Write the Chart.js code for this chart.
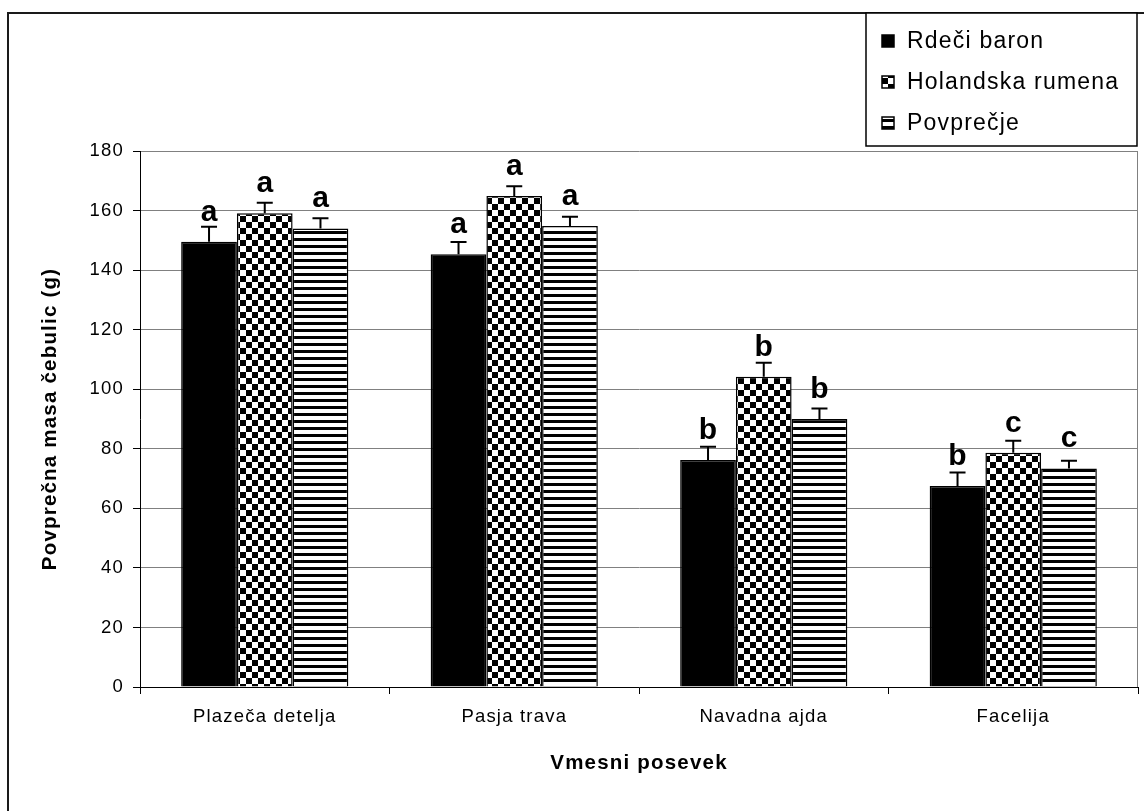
<!DOCTYPE html>
<html>
<head>
<meta charset="utf-8">
<script src="https://cdn.jsdelivr.net/npm/chart.js@4.4.0/dist/chart.umd.min.js"></script>
<style>
  html, body { margin: 0; padding: 0; background: #fff; }
  canvas { display: block; }
</style>
</head>
<body>
<canvas id="c" width="1144" height="811"></canvas>
<script>
const categories = ['Plazeča detelja', 'Pasja trava', 'Navadna ajda', 'Facelija'];
const seriesNames = ['Rdeči baron', 'Holandska rumena', 'Povprečje'];
const rdeciBaron = [149.5, 145.3, 76.2, 67.5];
const holandskaRumena = [159.1, 164.9, 104.2, 78.7];
const povprecje = [154.0, 154.8, 90.0, 73.4];
const rdeciBaronErr = [5.1, 4.1, 4.5, 4.5];
const holandskaRumenaErr = [3.5, 3.3, 4.7, 4.0];
const povprecjeErr = [3.4, 3.1, 3.5, 2.6];
const rdeciBaronLetters = ['a', 'a', 'b', 'b'];
const holandskaRumenaLetters = ['a', 'a', 'b', 'c'];
const povprecjeLetters = ['a', 'a', 'b', 'c'];
const yTicks = [0, 20, 40, 60, 80, 100, 120, 140, 160, 180];
const yTitle = 'Povprečna masa čebulic (g)';
const xTitle = 'Vmesni posevek';

const FONT = '"Liberation Sans", Arial, sans-serif';
const SPACING = '1.2px';

function checkerPattern() {
  const c = document.createElement('canvas');
  c.width = 12; c.height = 12;
  const g = c.getContext('2d');
  g.fillStyle = '#fff'; g.fillRect(0, 0, 12, 12);
  g.fillStyle = '#000';
  g.fillRect(0, 0, 6, 6); g.fillRect(6, 6, 6, 6);
  return g.createPattern(c, 'repeat');
}
function stripePattern() {
  const c = document.createElement('canvas');
  c.width = 7; c.height = 7;
  const g = c.getContext('2d');
  g.fillStyle = '#fff'; g.fillRect(0, 0, 7, 7);
  g.fillStyle = '#000'; g.fillRect(0, 0, 7, 3);
  return g.createPattern(c, 'repeat');
}
const fills = ['#000000', checkerPattern(), stripePattern()];

const errs = [rdeciBaronErr, holandskaRumenaErr, povprecjeErr];
const letters = [rdeciBaronLetters, holandskaRumenaLetters, povprecjeLetters];

function setSpacing(chart) {
  if ('letterSpacing' in chart.ctx) chart.ctx.letterSpacing = SPACING;
}

const decor = {
  id: 'decor',
  beforeUpdate(chart) { setSpacing(chart); },
  beforeLayout(chart) { setSpacing(chart); },
  beforeDraw(chart) {
    setSpacing(chart);
    const ctx = chart.ctx;
    ctx.save();
    ctx.fillStyle = '#fff';
    ctx.fillRect(0, 0, chart.width, chart.height);
    ctx.restore();
  },
  afterDatasetsDraw(chart) {
    const ctx = chart.ctx;
    const y = chart.scales.y;
    ctx.save();
    ctx.letterSpacing = '0px';
    chart.data.datasets.forEach((ds, di) => {
      const meta = chart.getDatasetMeta(di);
      meta.data.forEach((bar, i) => {
        const top = y.getPixelForValue(ds.data[i] + errs[di][i]);
        const base = y.getPixelForValue(ds.data[i]);
        ctx.strokeStyle = '#000';
        ctx.lineWidth = 2;
        ctx.beginPath();
        ctx.moveTo(bar.x, base);
        ctx.lineTo(bar.x, top);
        ctx.moveTo(bar.x - 8, top);
        ctx.lineTo(bar.x + 8, top);
        ctx.stroke();
        ctx.fillStyle = '#000';
        ctx.font = 'bold 30px ' + FONT;
        ctx.textAlign = 'center';
        ctx.textBaseline = 'alphabetic';
        ctx.fillText(letters[di][i], bar.x, base - 21);
      });
    });
    ctx.restore();
  },
  afterDraw(chart) {
    const ctx = chart.ctx;
    const a = chart.chartArea;
    ctx.save();
    ctx.strokeStyle = '#808080';
    ctx.lineWidth = 1;
    ctx.beginPath();
    ctx.moveTo(a.right - 0.5, a.top);
    ctx.lineTo(a.right - 0.5, a.bottom);
    ctx.stroke();
    ctx.strokeStyle = '#1a1a1a';
    ctx.lineWidth = 2;
    ctx.beginPath();
    ctx.moveTo(8, chart.height);
    ctx.lineTo(8, 13);
    ctx.lineTo(chart.width, 13);
    ctx.stroke();
    const lx = 866, ly = 13, lw = 271, lh = 133;
    ctx.fillStyle = '#fff';
    ctx.fillRect(lx, ly, lw, lh);
    ctx.strokeStyle = '#000';
    ctx.lineWidth = 1.5;
    ctx.strokeRect(lx, ly, lw, lh);
    ctx.font = '23px ' + FONT;
    ctx.textAlign = 'left';
    ctx.textBaseline = 'middle';
    chart.data.datasets.forEach((ds, di) => {
      const cy = 41 + di * 41;
      ctx.fillStyle = ds.backgroundColor;
      ctx.fillRect(882, cy - 6, 12, 12);
      ctx.strokeStyle = '#000';
      ctx.lineWidth = 1.5;
      ctx.strokeRect(882, cy - 6, 12, 12);
      ctx.fillStyle = '#000';
      ctx.fillText(ds.label, 907, cy + 1);
    });
    ctx.restore();
  }
};

new Chart(document.getElementById('c'), {
  type: 'bar',
  data: {
    labels: categories,
    datasets: [
      { label: seriesNames[0], data: rdeciBaron, backgroundColor: fills[0], borderColor: '#000', borderWidth: 1.5 },
      { label: seriesNames[1], data: holandskaRumena, backgroundColor: fills[1], borderColor: '#000', borderWidth: 1.5 },
      { label: seriesNames[2], data: povprecje, backgroundColor: fills[2], borderColor: '#000', borderWidth: 1.5 }
    ]
  },
  options: {
    responsive: false,
    animation: false,
    devicePixelRatio: 1,
    layout: { padding: { left: 33, right: 6, top: 151, bottom: 28 } },
    datasets: { bar: { categoryPercentage: 0.67, barPercentage: 1.0 } },
    plugins: { legend: { display: false }, tooltip: { enabled: false } },
    scales: {
      x: {
        grid: { offset: true, drawOnChartArea: false, tickLength: 7, tickColor: '#000', color: '#000' },
        border: { color: '#000', width: 1 },
        ticks: { color: '#000', font: { family: FONT, size: 18.5 }, padding: 12, maxRotation: 0 },
        title: { display: true, text: xTitle, color: '#000', font: { family: FONT, size: 20.5, weight: 'bold' }, padding: { top: 0, bottom: 7.7 } },
        afterFit(s) { s.height = 96; }
      },
      y: {
        min: 0, max: 180,
        afterBuildTicks(s) { s.ticks = yTicks.map(v => ({ value: v })); },
        grid: { color: '#808080', tickLength: 7, tickColor: '#000' },
        border: { color: '#000', width: 1 },
        ticks: { color: '#000', font: { family: FONT, size: 18.5 }, padding: 9 },
        title: { display: true, text: yTitle, color: '#000', font: { family: FONT, size: 20.5, weight: 'bold' }, padding: { top: 4.7, bottom: 0 } },
        afterFit(s) { s.width = 107; }
      }
    }
  },
  plugins: [decor]
});
</script>
</body>
</html>
